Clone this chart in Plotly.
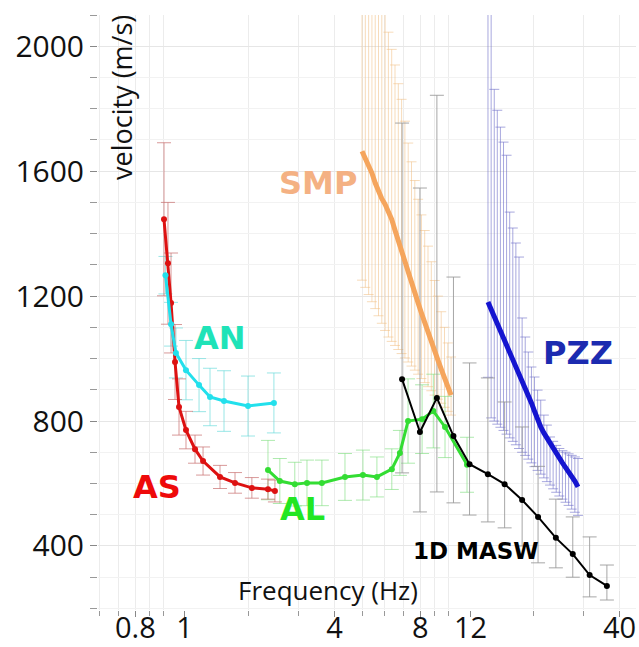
import plotly.graph_objects as go

# ---------------- data ----------------
as_f = [1.008, 1.041, 1.067, 1.102, 1.138, 1.204, 1.295, 1.382, 1.585, 1.789, 2.05, 2.335, 2.47]
as_v = [1446, 1305, 1178, 989, 845, 771, 710, 672, 621, 602, 586, 582, 576]
as_err = [245, 195, 160, 120, 90, 60, 45, 45, 37, 33, 33, 32, 35]

an_f = [1.02, 1.067, 1.11, 1.204, 1.338, 1.462, 1.637, 1.987, 2.45]
an_v = [1267, 1110, 1018, 963, 915, 877, 864, 848, 858]
an_err = [60, 70, 80, 95, 85, 92, 97, 96, 96]

al_f = [2.335, 2.57, 2.9, 3.2, 3.61, 4.35, 5.03, 5.63, 6.35, 6.78, 7.24, 8.11, 8.88, 9.76, 11.66]
al_v = [643, 608, 598, 602, 602, 621, 627, 621, 646, 698, 800, 806, 832, 781, 660]
al_err = [95, 72, 70, 73, 73, 75, 80, 64, 65, 72, 135, 110, 118, 98, 88]

masw_f = [6.9, 7.97, 9.14, 10.45, 11.9, 13.8, 15.8, 18.2, 20.7, 23.9, 27.4, 31.4, 36.1]
masw_v = [934, 765, 874, 752, 662, 630, 598, 547, 493, 426, 374, 307, 272]
masw_top = [1754, 1546, 1843, 1261, 986, 938, 861, 781, 655, 550, 493, 429, 339]
masw_bot = [634, 509, 573, 538, 499, 477, 458, 400, 346, 330, 300, 237, 227]

smp_f = [4.992, 5.127, 5.266, 5.408, 5.554, 5.703, 5.857, 6.016, 6.178, 6.345,
         6.516, 6.692, 6.873, 7.059, 7.249, 7.446, 7.647, 7.855, 8.067, 8.283,
         8.507, 8.738, 8.974, 9.217, 9.465, 9.721, 9.984, 10.25]
smp_v = [1664, 1642, 1619, 1594, 1562, 1533, 1512, 1494, 1472, 1446,
         1411, 1376, 1341, 1309, 1274, 1242, 1210, 1178, 1146, 1114,
         1082, 1053, 1024, 995, 966, 938, 912, 883]
smp_top = [2500, 2450, 2400, 2350, 2300, 2250, 2200, 2150, 2045, 1990,
           1940, 1880, 1830, 1760, 1690, 1630, 1570, 1510, 1460, 1410,
           1360, 1310, 1250, 1200, 1150, 1100, 1050, 1005]
smp_bot = [1251, 1228, 1205, 1182, 1160, 1137, 1113, 1090, 1069, 1055,
           1042, 1029, 1016, 1002, 989, 976, 963, 950, 936, 923,
           910, 897, 883, 870, 857, 844, 831, 819]

pzz_f = [13.81, 14.17, 14.53, 14.89, 15.27, 15.66, 16.05, 16.46, 16.88, 17.30,
         17.75, 18.20, 18.66, 19.13, 19.62, 20.11, 20.62, 21.15, 21.69, 22.23,
         22.80, 23.38, 23.97, 24.58, 25.20, 25.84, 26.50, 27.16, 27.86, 28.58]
pzz_v = [1181, 1158, 1136, 1114, 1091, 1066, 1043, 1021, 995, 973,
         950, 928, 906, 883, 858, 832, 803, 781, 762, 746,
         726, 707, 694, 682, 666, 653, 637, 624, 608, 589]
pzz_top = [2500, 2400, 1862, 1795, 1741, 1693, 1651, 1469, 1418, 1370,
           1325, 1130, 1069, 1021, 973, 941, 899, 867, 819, 787,
           749, 735, 722, 712, 705, 700, 695, 690, 685, 680]
pzz_bot = [940, 810, 800, 790, 780, 770, 758, 746, 735, 724,
           712, 700, 690, 678, 666, 654, 642, 630, 618, 606,
           595, 583, 572, 560, 550, 540, 530, 518, 508, 498]

x_tickvals = [0.8, 1.19, 4, 8, 12, 40]
x_ticktext = ["0.8", "1", "4", "8", "12", "40"]
x_minor = [0.6, 0.7, 0.8, 0.9, 1, 2, 3, 4, 5, 6, 7, 8, 9, 10, 20, 30, 40]
y_tickvals = [400, 800, 1200, 1600, 2000]

labels = [
    ("AS", "#ee0a0a", 0.1097, 0.2067, 32),
    ("AN", "#1fe3b8", 0.2268, 0.4571, 32),
    ("AL", "#22e622", 0.3792, 0.1697, 32),
    ("SMP", "#f4b183", 0.4089, 0.7176, 32),
    ("PZZ", "#1c2bb0", 0.8922, 0.4319, 32),
    ("1D MASW", "#000000", 0.7026, 0.0992, 23),
]


def up(top, v):
    return [t - x for t, x in zip(top, v)]


def dn(bot, v):
    return [x - b for b, x in zip(bot, v)]


fig = go.Figure()

# error bar layers (drawn beneath the curves)
def bars(f, v, plus, minus, color, width=4):
    fig.add_trace(go.Scatter(
        x=f, y=v, mode="markers",
        marker=dict(size=1, color="rgba(0,0,0,0)"),
        error_y=dict(type="data", symmetric=False, array=plus, arrayminus=minus,
                     color=color, thickness=1, width=width),
        hoverinfo="skip", showlegend=False))

bars(smp_f, smp_v, up(smp_top, smp_v), dn(smp_bot, smp_v), "rgba(240,190,130,0.55)", 5)
bars(pzz_f, pzz_v, up(pzz_top, pzz_v), dn(pzz_bot, pzz_v), "rgba(110,110,200,0.6)", 5)
bars(al_f, al_v, al_err, al_err, "rgba(120,220,120,0.6)", 7)
bars(an_f, an_v, an_err, an_err, "rgba(110,220,220,0.7)", 7)
bars(as_f, as_v, as_err, as_err, "rgba(200,110,110,0.7)", 7)
bars(masw_f, masw_v, up(masw_top, masw_v), dn(masw_bot, masw_v), "rgba(150,150,150,0.85)", 7)

# curves
fig.add_trace(go.Scatter(x=smp_f, y=smp_v, mode="lines",
                         line=dict(color="#f5a55c", width=5), showlegend=False))
fig.add_trace(go.Scatter(x=pzz_f, y=pzz_v, mode="lines",
                         line=dict(color="#1414d0", width=5), showlegend=False))
fig.add_trace(go.Scatter(x=al_f, y=al_v, mode="lines+markers",
                         line=dict(color="#33dd33", width=3),
                         marker=dict(size=6, color="#33dd33"), showlegend=False))
fig.add_trace(go.Scatter(x=masw_f, y=masw_v, mode="lines+markers",
                         line=dict(color="#000000", width=2),
                         marker=dict(size=6, color="#000000"), showlegend=False))
fig.add_trace(go.Scatter(x=as_f, y=as_v, mode="lines+markers",
                         line=dict(color="#dd1111", width=3),
                         marker=dict(size=6, color="#dd1111"), showlegend=False))
fig.add_trace(go.Scatter(x=an_f, y=an_v, mode="lines+markers",
                         line=dict(color="#22e0ec", width=3),
                         marker=dict(size=6, color="#22e0ec"), showlegend=False))

annotations = []
for txt, col, xp, yp, sz in labels:
    annotations.append(dict(text=txt, x=xp, y=yp, xref="paper", yref="paper",
                            xanchor="center", yanchor="middle", showarrow=False,
                            font=dict(family="DejaVu Sans", size=sz, color=col,
                                      weight="bold")))
annotations.append(dict(text="velocity (m/s)", x=0.0446, y=0.8622, xref="paper",
                        yref="paper", textangle=-90, showarrow=False,
                        xanchor="center", yanchor="middle",
                        font=dict(family="Open Sans", size=27, color="#111")))
annotations.append(dict(text="Frequency (Hz)", x=0.4275, y=0.034, xref="paper",
                        yref="paper", showarrow=False,
                        xanchor="center", yanchor="middle",
                        font=dict(family="Open Sans", size=26, color="#111")))

fig.update_layout(
    width=639, height=647,
    margin=dict(l=98, r=3, t=15, b=37, autoexpand=False),
    paper_bgcolor="white", plot_bgcolor="white",
    showlegend=False,
    annotations=annotations,
    xaxis=dict(type="log", range=[-0.2281, 1.6596], automargin=False,
               tickvals=x_tickvals, ticktext=x_ticktext,
               ticks="outside", ticklen=6, tickcolor="#888", showgrid=False,
               zeroline=False, showline=False, ticklabelstandoff=-14,
               tickfont=dict(family="Open Sans", size=29, color="#111"),
               minor=dict(tickvals=x_minor, ticks="outside", ticklen=5,
                          tickcolor="#999", showgrid=True, gridcolor="#ececec")),
    yaxis=dict(range=[195, 2100], tickvals=y_tickvals, automargin=False,
               ticks="outside", ticklen=7, tickcolor="#888",
               showgrid=True, gridcolor="#e6e6e6", zeroline=False, showline=False,
               tickfont=dict(family="Open Sans", size=30, color="#111"),
               minor=dict(dtick=100, tick0=0, ticks="outside", ticklen=7,
                          tickcolor="#999", showgrid=True, gridcolor="#f2f2f2")),
)

fig.write_html("out.html")
